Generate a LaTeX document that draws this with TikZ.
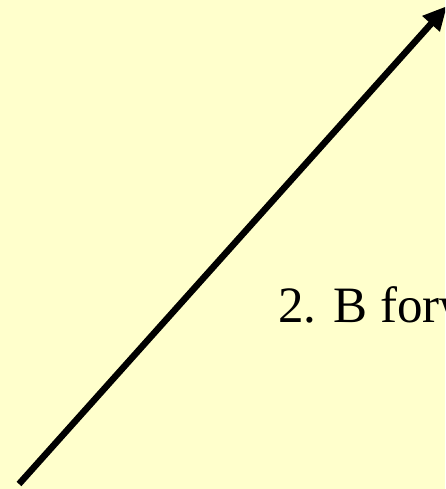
\documentclass[tikz,border=0pt]{standalone}
\usepackage{fontspec}
\setmainfont{Liberation Serif}
\usetikzlibrary{arrows.meta}
\definecolor{bgyellow}{HTML}{FFFFCC}
\tikzset{bigarrow/.style={line width=6.5pt,-{Triangle[length=24pt,width=22pt]}}}
\begin{document}
\begin{tikzpicture}[x=1pt,y=1pt]
\useasboundingbox (0,0) rectangle (445,489);
\clip (0,0) rectangle (445,489);
\fill[bgyellow] (0,0) rectangle (445,489);
\coordinate (start) at (19,5);
\coordinate (tip) at (447,483);
\draw[bigarrow] (start) -- (tip);
\node[anchor=base west,inner sep=0pt,font=\fontsize{51}{60}\selectfont] (lbl) at (278,166) {2. B forward};
\end{tikzpicture}
\end{document}
